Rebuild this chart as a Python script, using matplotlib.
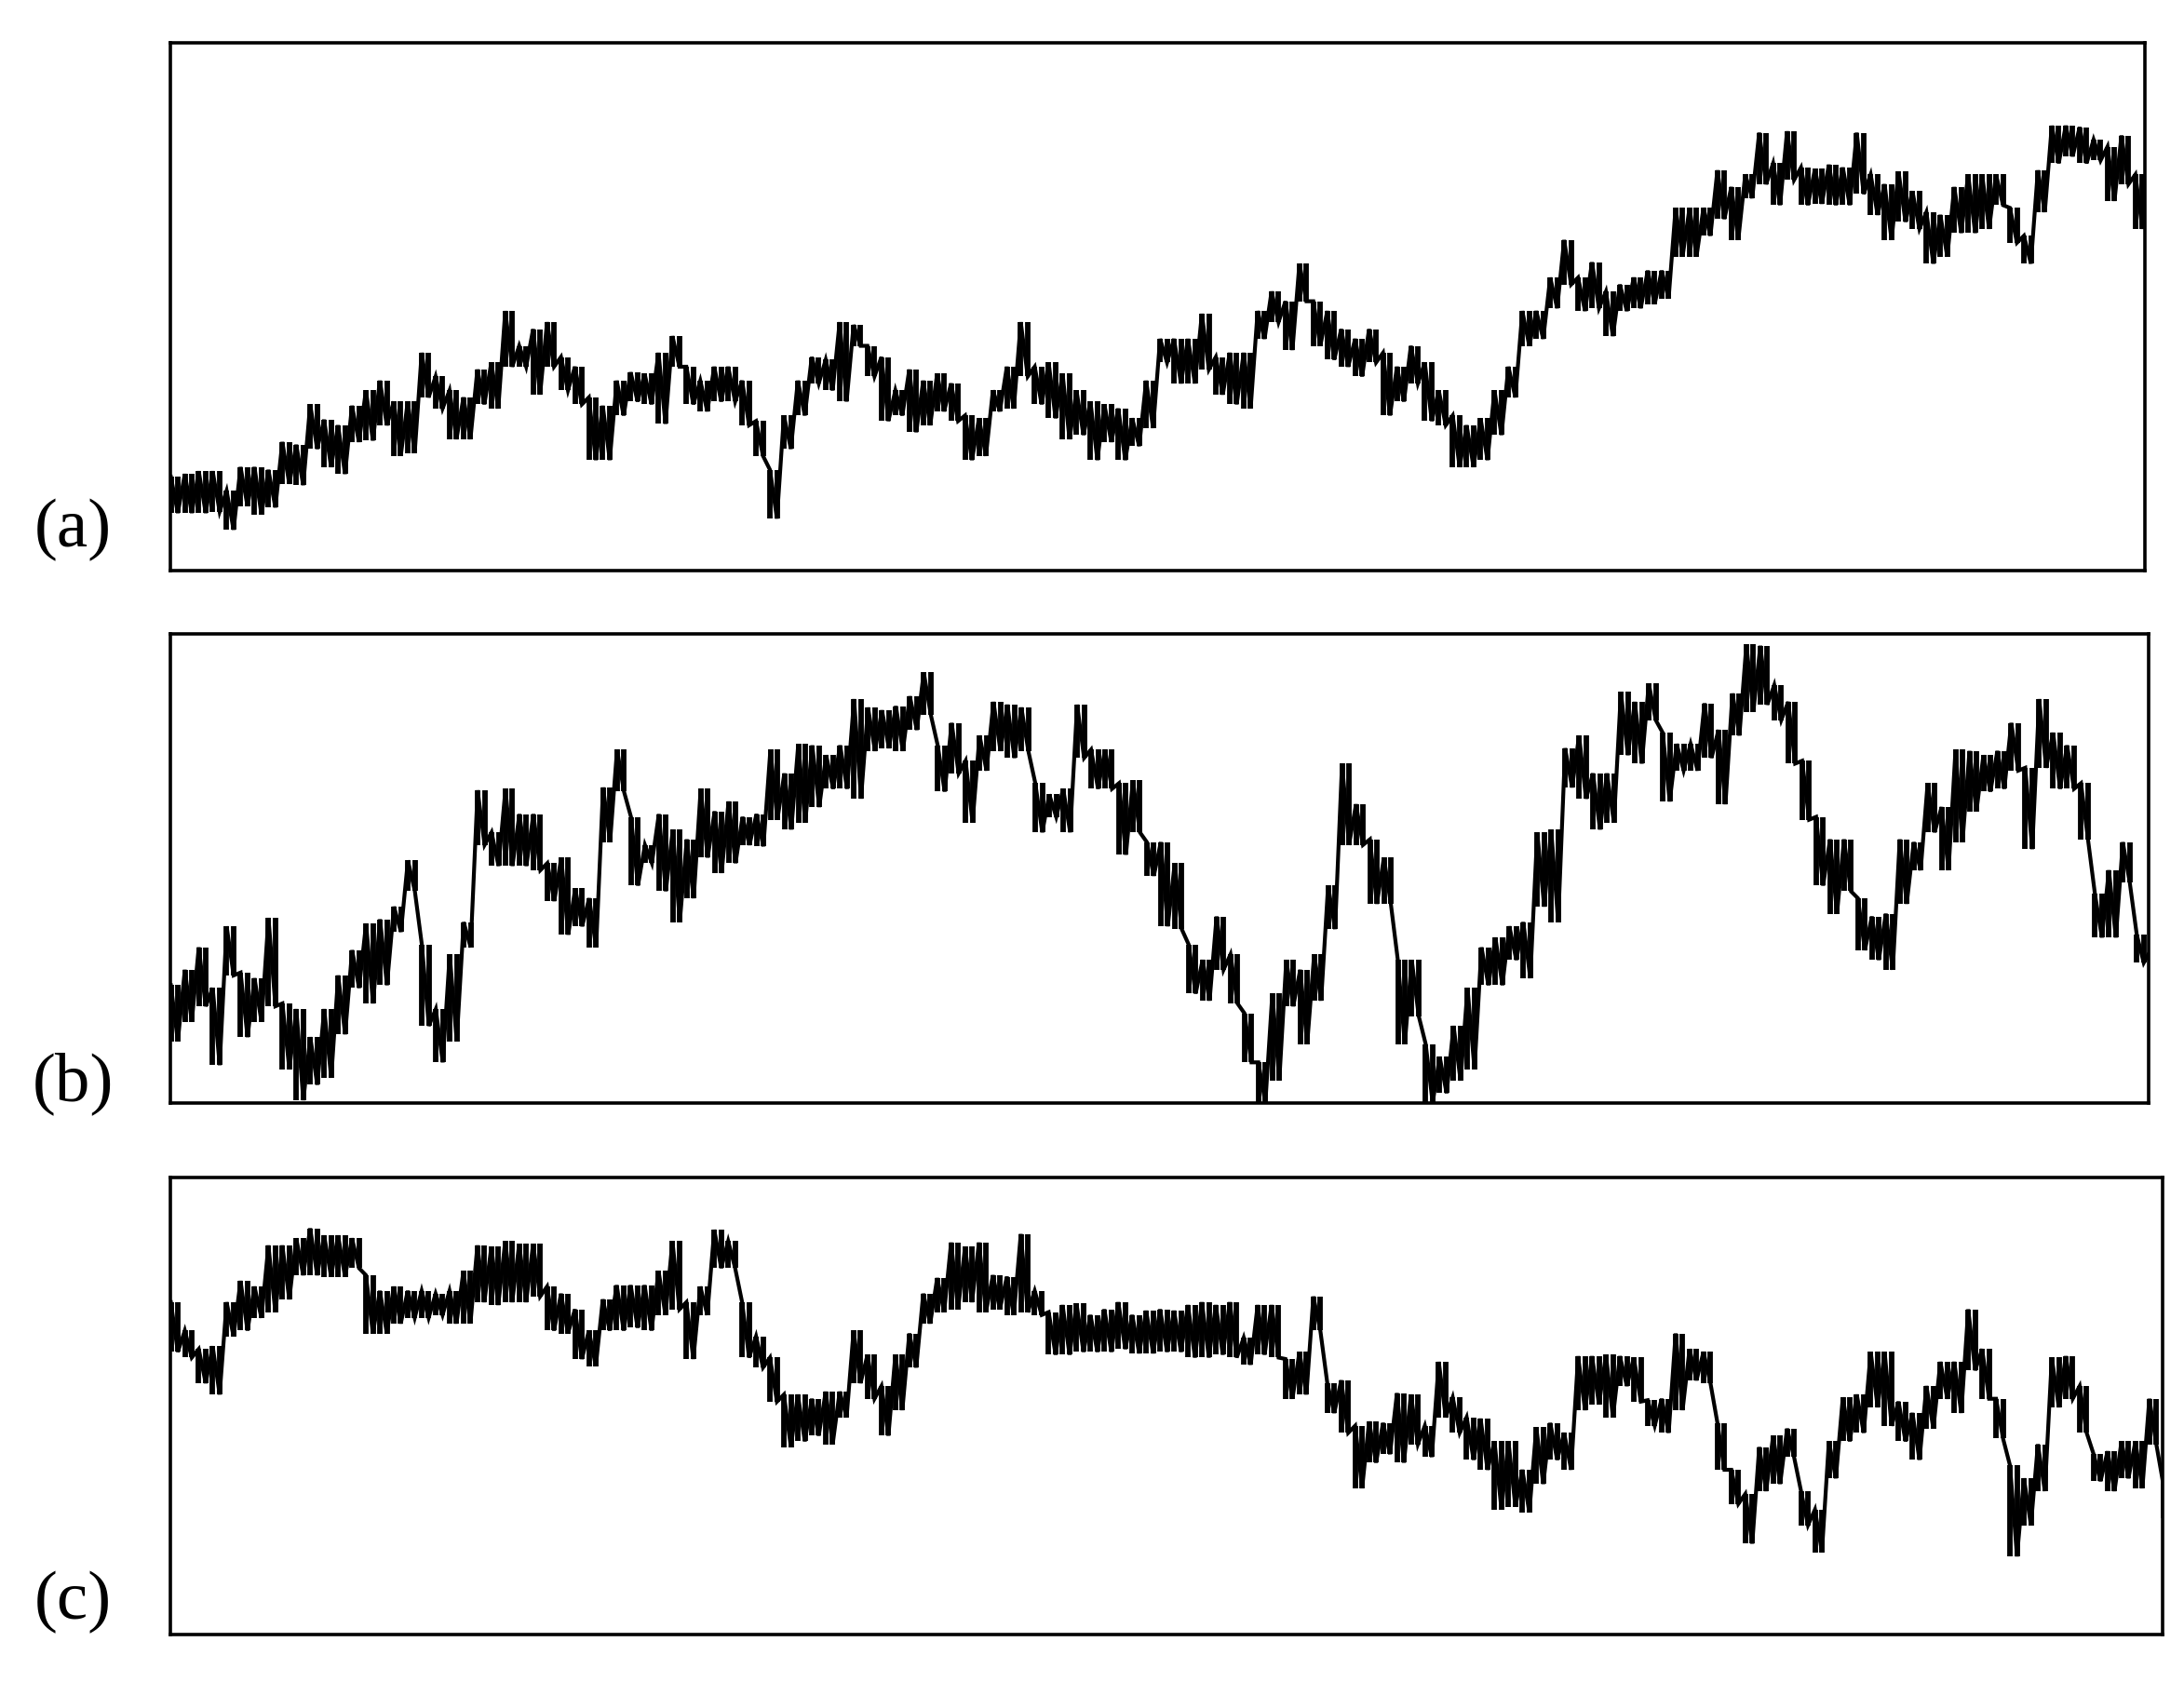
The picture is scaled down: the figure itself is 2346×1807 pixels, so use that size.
import numpy as np
import matplotlib
matplotlib.use("Agg")
import matplotlib.pyplot as plt

# ---- data: upper / lower envelope of each noisy trace, sampled at regular steps ----
a_hi = [67, 69, 71, 71, 57, 74, 74, 72, 92, 90, 119, 108, 104, 118, 129, 136, 121, 121, 156, 139,
        129, 124, 144, 149, 186, 161, 173, 178, 153, 146, 124, 118, 136, 142, 141, 156, 168, 146, 136, 146,
        146, 136, 107, 72, 111, 136, 153, 151, 178, 176, 161, 153, 129, 144, 136, 141, 134, 111, 109, 129,
        146, 178, 146, 149, 141, 129, 121, 119, 116, 109, 136, 166, 166, 166, 184, 153, 156, 156, 186, 200,
        193, 220, 193, 186, 173, 166, 173, 156, 146, 161, 149, 129, 111, 104, 109, 129, 146, 186, 186, 210,
        237, 210, 221, 200, 205, 210, 215, 215, 260, 260, 260, 287, 275, 284, 314, 292, 315, 289, 288, 291,
        289, 314, 284, 277, 286, 272, 257, 255, 275, 284, 284, 284, 260, 240, 287, 319, 319, 318, 309, 304,
        312, 284, 272]
a_lo = [41, 41, 41, 42, 29, 46, 40, 45, 62, 61, 87, 74, 69, 92, 93, 104, 82, 84, 124, 116,
        94, 94, 119, 116, 146, 146, 126, 146, 129, 119, 79, 79, 111, 121, 119, 105, 146, 119, 114, 121,
        121, 104, 82, 37, 87, 111, 134, 129, 121, 161, 139, 107, 111, 99, 104, 114, 107, 79, 82, 114,
        116, 139, 119, 109, 94, 97, 79, 92, 79, 89, 102, 149, 134, 134, 144, 126, 119, 116, 166, 178,
        158, 193, 161, 151, 146, 139, 149, 111, 121, 134, 107, 104, 74, 74, 79, 97, 124, 161, 166, 188,
        205, 186, 188, 168, 186, 188, 191, 195, 225, 225, 240, 252, 237, 267, 277, 262, 280, 262, 263, 262,
        262, 270, 255, 237, 250, 245, 220, 225, 242, 242, 245, 262, 235, 220, 257, 292, 297, 292, 294, 265,
        277, 245, 255]

b_hi = [84, 95, 111, 82, 126, 93, 89, 132, 71, 67, 47, 67, 91, 109, 128, 131, 140, 173, 113, 67,
        106, 129, 223, 193, 224, 206, 206, 171, 175, 153, 146, 225, 252, 204, 184, 206, 195, 188, 224, 208,
        215, 204, 206, 252, 235, 256, 255, 248, 255, 288, 282, 280, 283, 290, 307, 255, 271, 244, 262, 286,
        284, 282, 228, 220, 224, 284, 252, 252, 228, 230, 186, 186, 171, 113, 102, 133, 106, 64, 29, 78,
        102, 95, 106, 155, 242, 213, 188, 175, 102, 102, 42, 33, 55, 82, 111, 118, 126, 129, 193, 195,
        253, 262, 235, 235, 293, 286, 299, 264, 256, 256, 285, 266, 292, 327, 326, 298, 286, 244, 204, 188,
        188, 146, 133, 135, 188, 186, 228, 211, 252, 251, 248, 251, 271, 239, 288, 264, 255, 228, 149, 166,
        186, 120, 109]
b_lo = [44, 58, 69, 27, 91, 47, 58, 69, 24, 2, 13, 18, 49, 82, 71, 84, 122, 151, 55, 29,
        44, 111, 184, 169, 169, 169, 166, 144, 120, 126, 111, 186, 222, 155, 171, 151, 129, 146, 175, 164,
        171, 184, 183, 202, 195, 200, 211, 224, 224, 217, 251, 253, 251, 266, 277, 222, 235, 200, 237, 251,
        246, 251, 193, 204, 193, 246, 224, 224, 177, 193, 162, 126, 124, 78, 73, 95, 71, 29, 0, 16,
        69, 42, 73, 124, 184, 184, 142, 142, 42, 62, 0, 7, 16, 24, 84, 84, 102, 89, 140, 129,
        225, 217, 195, 200, 248, 242, 273, 215, 237, 237, 246, 213, 262, 279, 284, 273, 242, 202, 155, 135,
        151, 109, 102, 95, 142, 166, 193, 166, 186, 208, 222, 224, 237, 181, 239, 224, 224, 188, 118, 118,
        157, 100, 67]

c_hi = [234, 214, 201, 203, 234, 249, 245, 274, 274, 279, 286, 281, 281, 279, 253, 242, 245, 242, 242, 240,
        242, 256, 274, 273, 277, 275, 275, 245, 240, 229, 214, 236, 246, 246, 246, 256, 277, 234, 245, 285,
        277, 234, 210, 195, 169, 169, 166, 171, 171, 214, 197, 175, 197, 212, 240, 251, 276, 273, 276, 253,
        252, 282, 242, 227, 232, 233, 225, 229, 234, 225, 228, 229, 228, 232, 234, 232, 234, 209, 232, 232,
        194, 199, 238, 177, 179, 147, 150, 149, 170, 169, 147, 192, 167, 153, 152, 136, 136, 116, 146, 149,
        142, 196, 196, 197, 196, 195, 165, 166, 212, 201, 199, 149, 116, 99, 132, 140, 145, 101, 88, 136,
        167, 169, 199, 199, 164, 156, 175, 192, 192, 229, 201, 166, 119, 110, 134, 195, 196, 175, 127, 129,
        136, 136, 166, 106]
c_lo = [199, 195, 177, 169, 210, 214, 223, 227, 236, 253, 253, 252, 252, 258, 212, 212, 219, 223, 223, 225,
        219, 219, 234, 232, 234, 234, 238, 214, 212, 194, 189, 214, 214, 216, 214, 225, 229, 194, 225, 258,
        258, 195, 188, 164, 132, 136, 140, 134, 153, 177, 166, 140, 158, 188, 219, 227, 229, 234, 227, 229,
        225, 227, 225, 197, 197, 199, 199, 199, 201, 198, 198, 199, 199, 195, 195, 197, 195, 190, 197, 195,
        166, 169, 214, 156, 142, 103, 121, 127, 121, 134, 125, 153, 142, 123, 116, 88, 90, 86, 106, 123,
        116, 158, 162, 153, 175, 164, 147, 142, 158, 179, 177, 116, 92, 64, 101, 106, 125, 77, 58, 110,
        136, 142, 160, 147, 136, 123, 145, 166, 156, 186, 166, 138, 55, 77, 101, 160, 166, 142, 108, 101,
        110, 103, 134, 82]

labels = ["(a)", "(b)", "(c)"]
series = [(a_hi, a_lo), (b_hi, b_lo), (c_hi, c_lo)]
y_tops = [378.5, 334.8, 321.8]        # value at the top edge of each frame
x_ends = [141.65, 141.85, 142.95]     # sample position at the right edge of each frame

# ---- layout (pixels in a 2346 x 1808 canvas) ----
W, H = 2346, 1808
boxes = [(182.5, 47.0, 2303.5, 613.5),
         (182.5, 681.5, 2308.0, 1186.0),
         (182.5, 1266.0, 2323.0, 1757.0)]
label_pos = [(78, 569), (78, 1164), (78, 1721)]

fig = plt.figure(figsize=(W / 100, H / 100), dpi=100)
fig.patch.set_facecolor("white")

for (hi, lo), box, ytop, xend, lab, lp in zip(series, boxes, y_tops, x_ends, labels, label_pos):
    x0, y0, x1, y1 = box
    ax = fig.add_axes([x0 / W, 1 - y1 / H, (x1 - x0) / W, (y1 - y0) / H])
    hi = np.asarray(hi, float)
    lo = np.asarray(lo, float)
    n = len(hi)
    t = np.arange(n, dtype=float)
    xs = np.empty(2 * n)
    ys = np.empty(2 * n)
    xs[0::2] = t
    xs[1::2] = t + 0.5
    ys[0::2] = hi
    ys[1::2] = lo
    # each sample's spread as vertical strokes, joined by the zig-zag trace
    ax.vlines(t, lo, hi, color="black", lw=4.2)
    ax.vlines(t + 0.5, lo, hi, color="black", lw=4.2)
    ax.plot(xs, ys, color="black", lw=3.0, solid_joinstyle="miter")
    ax.set_xlim(-0.07, xend)
    ax.set_ylim(0, ytop)
    ax.set_xticks([])
    ax.set_yticks([])
    for sp in ax.spines.values():
        sp.set_linewidth(2.6)
        sp.set_color("black")
    fig.text(lp[0] / W, 1 - lp[1] / H, lab, ha="center", va="center",
             fontsize=54, family=["Liberation Serif", "DejaVu Serif"])

fig.savefig("out.png", dpi=100, facecolor="white")
